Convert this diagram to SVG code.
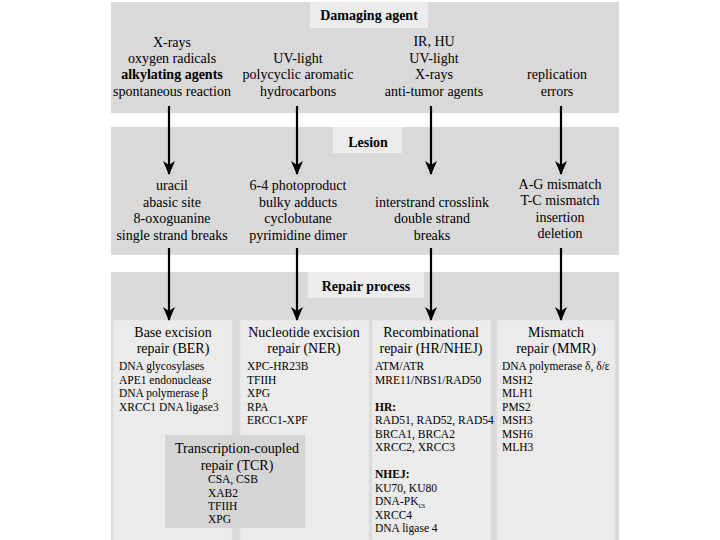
<svg xmlns="http://www.w3.org/2000/svg" width="720" height="540" viewBox="0 0 720 540" font-family="'Liberation Serif', 'DejaVu Serif', 'Times New Roman', serif">
<defs>
<marker id="ah" markerUnits="userSpaceOnUse" markerWidth="14" markerHeight="14" viewBox="0 0 14 14" refX="13" refY="7" orient="auto">
<path d="M0,1 L14,7 L0,13 L4,7 z" fill="#000"/>
</marker>
<style>
.band{fill:#d9d9d9}
.title{fill:#ececec}
.box{fill:#ebebeb;stroke:#e2e2e2;stroke-width:1}
.tcr{fill:#d5d5d5}
text{font-family:'Liberation Serif', 'DejaVu Serif', 'Times New Roman', serif;fill:#000}
.t{font-size:14px;text-anchor:middle}
.h{font-size:14px;font-weight:bold;text-anchor:middle}
.l{font-size:11.5px}
.lb{font-size:11.5px;font-weight:bold}
.arr{stroke:#000;stroke-width:2.2;fill:none;marker-end:url(#ah)}
</style>
</defs>
<rect width="720" height="540" fill="#fff"/>
<g id="band-damaging">
<rect class="band" x="111" y="2" width="508" height="111"/>
<rect class="title" x="310" y="2" width="118" height="26"/>
<text class="h" x="369" y="20">Damaging agent</text>
</g>
<g id="agents-1">
<text class="t" x="172" y="47">X-rays</text>
<text class="t" x="172" y="63">oxygen radicals</text>
<text class="t" x="172" y="79" font-weight="bold">alkylating agents</text>
<text class="t" x="172" y="96">spontaneous reaction</text>
</g>
<g id="agents-2">
<text class="t" x="298" y="63">UV-light</text>
<text class="t" x="298" y="79">polycyclic aromatic</text>
<text class="t" x="298" y="96">hydrocarbons</text>
</g>
<g id="agents-3">
<text class="t" x="434" y="46">IR, HU</text>
<text class="t" x="434" y="63">UV-light</text>
<text class="t" x="434" y="79">X-rays</text>
<text class="t" x="434" y="96">anti-tumor agents</text>
</g>
<g id="agents-4">
<text class="t" x="557" y="79">replication</text>
<text class="t" x="557" y="96">errors</text>
</g>
<g id="band-lesion">
<rect class="band" x="111" y="127" width="508" height="128"/>
<rect class="title" x="333" y="127" width="69" height="26"/>
<text class="h" x="368" y="147">Lesion</text>
</g>
<g id="lesion-1">
<text class="t" x="172" y="190">uracil</text>
<text class="t" x="172" y="207">abasic site</text>
<text class="t" x="172" y="223">8-oxoguanine</text>
<text class="t" x="172" y="240">single strand breaks</text>
</g>
<g id="lesion-2">
<text class="t" x="298" y="190">6-4 photoproduct</text>
<text class="t" x="298" y="207">bulky adducts</text>
<text class="t" x="298" y="223">cyclobutane</text>
<text class="t" x="298" y="240">pyrimidine dimer</text>
</g>
<g id="lesion-3">
<text class="t" x="432" y="207">interstrand crosslink</text>
<text class="t" x="432" y="223">double strand</text>
<text class="t" x="432" y="240">breaks</text>
</g>
<g id="lesion-4">
<text class="t" x="560" y="189">A-G mismatch</text>
<text class="t" x="560" y="205">T-C mismatch</text>
<text class="t" x="560" y="222">insertion</text>
<text class="t" x="560" y="238">deletion</text>
</g>
<g id="band-repair">
<rect class="band" x="111" y="272" width="508" height="268"/>
<rect class="title" x="308" y="272" width="116" height="26"/>
<text class="h" x="366" y="291">Repair process</text>
</g>
<g id="ber">
<rect class="box" x="113" y="320" width="119" height="222"/>
<text class="t" x="173" y="337">Base excision</text>
<text class="t" x="173" y="353">repair (BER)</text>
<text class="l" x="119" y="370">DNA glycosylases</text>
<text class="l" x="119" y="384">APE1 endonuclease</text>
<text class="l" x="119" y="397">DNA polymerase β</text>
<text class="l" x="119" y="411">XRCC1 DNA ligase3</text>
</g>
<g id="ner">
<rect class="box" x="240" y="320" width="129" height="222"/>
<text class="t" x="304" y="337">Nucleotide excision</text>
<text class="t" x="304" y="353">repair (NER)</text>
<text class="l" x="247" y="370">XPC-HR23B</text>
<text class="l" x="247" y="384">TFIIH</text>
<text class="l" x="247" y="397">XPG</text>
<text class="l" x="247" y="411">RPA</text>
<text class="l" x="247" y="424">ERCC1-XPF</text>
</g>
<g id="tcr">
<rect class="tcr" x="165" y="435" width="140" height="93"/>
<text class="t" x="237" y="453">Transcription-coupled</text>
<text class="t" x="237" y="470">repair (TCR)</text>
<text class="l" x="208" y="483">CSA, CSB</text>
<text class="l" x="208" y="497">XAB2</text>
<text class="l" x="208" y="510">TFIIH</text>
<text class="l" x="208" y="523">XPG</text>
</g>
<g id="recomb">
<rect class="box" x="372" y="320" width="119" height="222"/>
<text class="t" x="431" y="337">Recombinational</text>
<text class="t" x="431" y="353">repair (HR/NHEJ)</text>
<text class="l" x="375" y="370">ATM/ATR</text>
<text class="l" x="375" y="384">MRE11/NBS1/RAD50</text>
<text class="lb" x="375" y="411">HR:</text>
<text class="l" x="375" y="424">RAD51, RAD52, RAD54</text>
<text class="l" x="375" y="438">BRCA1, BRCA2</text>
<text class="l" x="375" y="451">XRCC2, XRCC3</text>
<text class="lb" x="375" y="478">NHEJ:</text>
<text class="l" x="375" y="492">KU70, KU80</text>
<text class="l" x="375" y="505">DNA-PK<tspan font-size="8" dy="3">cs</tspan></text>
<text class="l" x="375" y="519">XRCC4</text>
<text class="l" x="375" y="532">DNA ligase 4</text>
</g>
<g id="mmr">
<rect class="box" x="497" y="320" width="118" height="222"/>
<text class="t" x="556" y="337">Mismatch</text>
<text class="t" x="556" y="353">repair (MMR)</text>
<text class="l" x="502" y="370">DNA polymerase δ, δ/ε</text>
<text class="l" x="502" y="384">MSH2</text>
<text class="l" x="502" y="397">MLH1</text>
<text class="l" x="502" y="411">PMS2</text>
<text class="l" x="502" y="424">MSH3</text>
<text class="l" x="502" y="438">MSH6</text>
<text class="l" x="502" y="451">MLH3</text>
</g>
<g id="connectors">
<line class="arr" x1="169" y1="106" x2="169" y2="174"/>
<line class="arr" x1="297" y1="106" x2="297" y2="174"/>
<line class="arr" x1="431" y1="106" x2="431" y2="174"/>
<line class="arr" x1="561" y1="106" x2="561" y2="174"/>
<line class="arr" x1="169" y1="248" x2="169" y2="320"/>
<line class="arr" x1="297" y1="248" x2="297" y2="320"/>
<line class="arr" x1="431" y1="248" x2="431" y2="320"/>
<line class="arr" x1="561" y1="248" x2="561" y2="320"/>
</g>
</svg>
